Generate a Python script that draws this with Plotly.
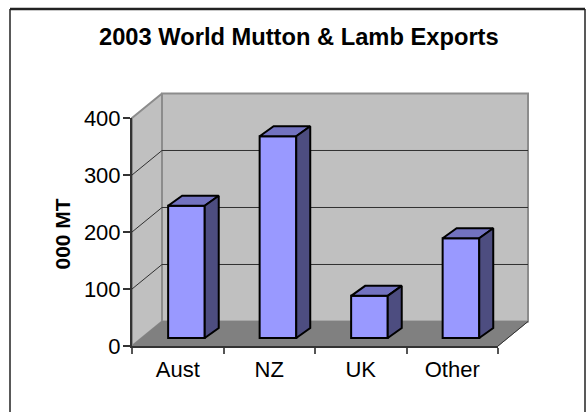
import plotly.graph_objects as go

categories = ["Aust", "NZ", "UK", "Other"]
exports = [232, 354, 74, 175]
value_ticks = [0, 100, 200, 300, 400]

TITLE = "2003 World Mutton & Lamb Exports"
Y_TITLE = "000 MT"

# Projection of the chart box, in axis units (categories across, kt up)
WALL_DX = 0.328
WALL_DY = 43
BAR_DX = 0.153
BAR_DY = 17.5
BAR_START = 0.395
BAR_WIDTH = 0.4
BAR_BASE = 14
N = len(categories)
V_MAX = value_ticks[-1]

# Front plane of the box on the page
LEFT, RIGHT, BOTTOM, TOP_EDGE = 132, 498, 346, 118
WIDTH, HEIGHT = 587, 412
PX_X = (RIGHT - LEFT) / N
PX_Y = (BOTTOM - TOP_EDGE) / V_MAX
PAD_X, PAD_Y = 0.05, 8

FACE = "#9999ff"
TOP = "#7272c0"
SIDE = "#4d4d80"
WALL = "#c0c0c0"
FLOOR = "#808080"
EDGE = "#8c8c8c"
FONT = "Liberation Sans"


def polygon(xs, ys, fill, line, width, axes):
    return go.Scatter(
        x=xs + xs[:1], y=ys + ys[:1], mode="lines", fill="toself", fillcolor=fill,
        line=dict(color=line, width=width), hoverinfo="skip", showlegend=False,
        xaxis=axes[0], yaxis=axes[1],
    )


def segment(xs, ys, color, width):
    return go.Scatter(
        x=xs, y=ys, mode="lines", line=dict(color=color, width=width),
        hoverinfo="skip", showlegend=False, xaxis="x", yaxis="y",
    )


def frame_line(x0, y0, x1, y1, width):
    return dict(type="line", xref="paper", yref="paper", x0=x0 / WIDTH, x1=x1 / WIDTH,
                y0=1 - y0 / HEIGHT, y1=1 - y1 / HEIGHT,
                line=dict(color="#222222", width=width), layer="below")


fig = go.Figure()
back = ("x", "y")

# Walls and floor of the box
fig.add_trace(polygon([WALL_DX, N + WALL_DX, N + WALL_DX, WALL_DX],
                      [WALL_DY, WALL_DY, V_MAX + WALL_DY, V_MAX + WALL_DY], WALL, EDGE, 2, back))
fig.add_trace(polygon([0, WALL_DX, WALL_DX, 0],
                      [0, WALL_DY, V_MAX + WALL_DY, V_MAX], WALL, EDGE, 2, back))
fig.add_trace(polygon([0, N, N + WALL_DX, WALL_DX],
                      [0, 0, WALL_DY, WALL_DY], FLOOR, FLOOR, 1, back))

# Gridlines wrap around the side wall and the back wall
for v in value_ticks[1:-1]:
    fig.add_trace(segment([0, WALL_DX, N + WALL_DX],
                          [v, v + WALL_DY, v + WALL_DY], "#303030", 1))
fig.add_trace(segment([N, N + WALL_DX], [0, WALL_DY], "#303030", 1))

# Front faces of the columns
bar_x = [i + BAR_START + BAR_WIDTH / 2 for i in range(N)]
fig.add_trace(go.Bar(
    x=bar_x, y=exports, base=BAR_BASE, width=BAR_WIDTH,
    marker=dict(color=FACE, line=dict(color="black", width=2)),
    hoverinfo="skip", showlegend=False, xaxis="x2", yaxis="y2",
))

# Top and side faces of the columns
front = ("x2", "y2")
for i, v in enumerate(exports):
    left = i + BAR_START
    right = left + BAR_WIDTH
    low = BAR_BASE
    high = BAR_BASE + v
    fig.add_trace(polygon([left, right, right + BAR_DX, left + BAR_DX],
                          [high, high, high + BAR_DY, high + BAR_DY], TOP, "black", 2, front))
    fig.add_trace(polygon([right, right + BAR_DX, right + BAR_DX, right],
                          [low, low + BAR_DY, high + BAR_DY, high], SIDE, "black", 2, front))

# The back subplot is a little larger than the front one, at the same scale,
# so that the walls reach past the front plane
back_x = [-PAD_X, N + WALL_DX + PAD_X]
back_y = [-PAD_Y, V_MAX + WALL_DY + PAD_Y]
back_x_domain = [(LEFT + back_x[0] * PX_X) / WIDTH, (LEFT + back_x[1] * PX_X) / WIDTH]
back_y_domain = [(HEIGHT - BOTTOM + back_y[0] * PX_Y) / HEIGHT,
                 (HEIGHT - BOTTOM + back_y[1] * PX_Y) / HEIGHT]

fig.update_layout(
    width=WIDTH, height=HEIGHT, autosize=False,
    margin=dict(l=0, r=0, t=0, b=0, pad=0),
    paper_bgcolor="white", plot_bgcolor="rgba(0,0,0,0)",
    font=dict(family=FONT, color="black"),
    barmode="overlay",
    xaxis=dict(domain=back_x_domain, range=back_x, visible=False, anchor="y", automargin=False),
    yaxis=dict(domain=back_y_domain, range=back_y, visible=False, anchor="x", automargin=False),
    xaxis2=dict(
        domain=[LEFT / WIDTH, RIGHT / WIDTH], range=[0, N], anchor="y2", side="bottom",
        automargin=False, ticklabelstandoff=3,
        tickvals=[i + 0.5 for i in range(N)], ticktext=categories, ticks="",
        tickfont=dict(size=22, color="black"), showgrid=False, zeroline=False,
        showline=True, linecolor="#333333", linewidth=2,
        minor=dict(tickvals=list(range(N + 1)), ticks="outside", ticklen=6,
                   tickwidth=1.5, tickcolor="#555555", showgrid=False),
    ),
    yaxis2=dict(
        domain=[(HEIGHT - BOTTOM) / HEIGHT, (HEIGHT - TOP_EDGE) / HEIGHT], range=[0, V_MAX],
        anchor="x2", side="left", automargin=False, ticklabelstandoff=-2,
        tickvals=value_ticks, ticks="outside", ticklen=7, tickwidth=1.5, tickcolor="#333333",
        tickfont=dict(size=22, color="black"), showgrid=False, zeroline=False,
        showline=True, linecolor="#333333", linewidth=2,
    ),
    annotations=[
        dict(text=f"<b>{TITLE}</b>", xref="paper", yref="paper", x=298.5 / WIDTH,
             y=1 - 37 / HEIGHT, xanchor="center", yanchor="middle", showarrow=False,
             font=dict(size=23.7, color="black")),
        dict(text=f"<b>{Y_TITLE}</b>", xref="paper", yref="paper", x=61.5 / WIDTH,
             y=1 - 234 / HEIGHT, xanchor="center", yanchor="middle", textangle=-90,
             showarrow=False, font=dict(size=21, color="black")),
    ],
    shapes=[
        frame_line(10, 9, 585, 9, 2.5),
        frame_line(10, 9, 10, 412, 1.5),
        frame_line(585, 9, 585, 412, 1.5),
    ],
)

fig.write_html("out.html", config={"displayModeBar": False})
